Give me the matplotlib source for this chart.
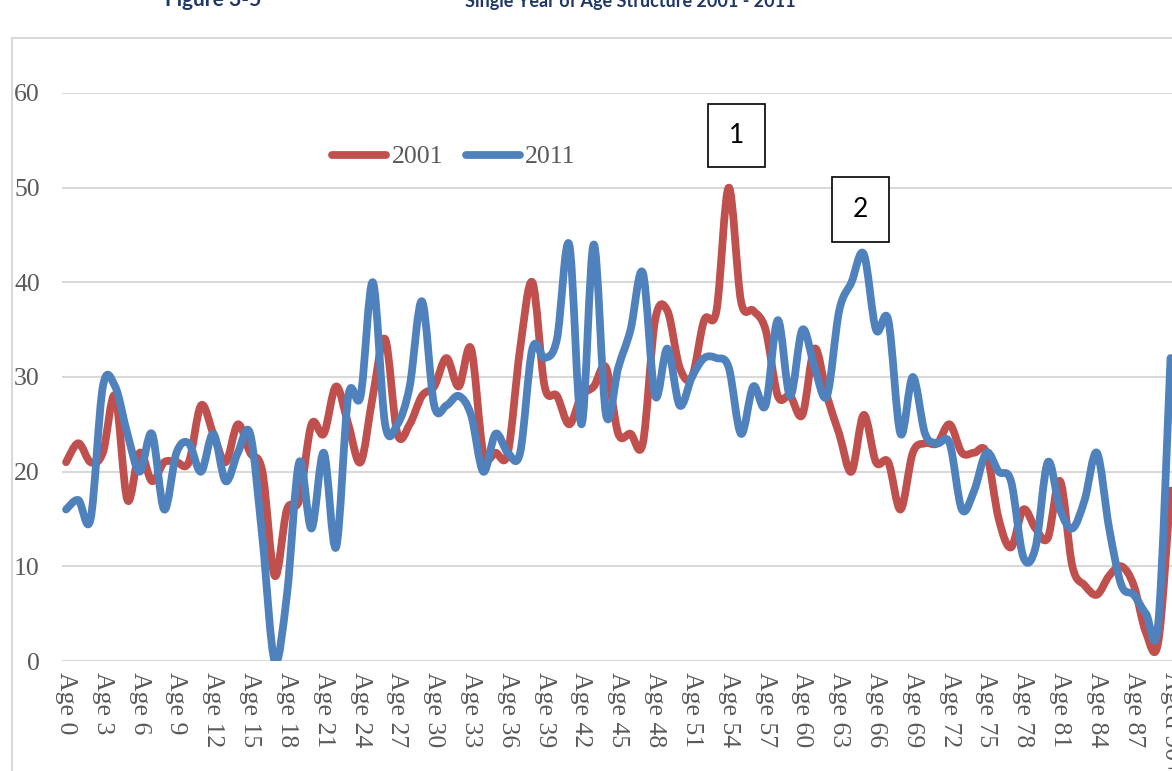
import matplotlib
matplotlib.use("Agg")
import matplotlib.pyplot as plt
from matplotlib.path import Path
from matplotlib.patches import PathPatch, Rectangle
from matplotlib.lines import Line2D

# single year of age, 0 .. 90+
ages = list(range(91))
age_labels = ["Age %d" % a for a in range(90)] + ["Aged 90+"]

pop_2001 = [21, 23, 21, 22, 28, 17, 22, 19, 21, 21,
            21, 27, 24, 21, 25, 22, 20, 9, 16, 17,
            25, 24, 29, 25, 21, 28, 34, 24, 25, 28,
            29, 32, 29, 33, 22, 22, 22, 33, 40, 29,
            28, 25, 28, 29, 31, 24, 24, 23, 36, 37,
            31, 30, 36, 37, 50, 38, 37, 35, 28, 28,
            26, 33, 28, 24, 20, 26, 21, 21, 16, 22,
            23, 23, 25, 22, 22, 22, 15, 12, 16, 14,
            13, 19, 10, 8, 7, 9, 10, 8, 3, 2, 18]

pop_2011 = [16, 17, 15, 29, 29, 24, 20, 24, 16, 22,
            23, 20, 24, 19, 22, 24, 13, 0, 7, 21,
            14, 22, 12, 28, 28, 40, 25, 25, 29, 38,
            27, 27, 28, 26, 20, 24, 22, 22, 33, 32,
            34, 44, 25, 44, 26, 31, 35, 41, 28, 33,
            27, 30, 32, 32, 31, 24, 29, 27, 36, 28,
            35, 31, 28, 37, 40, 43, 35, 36, 24, 30,
            24, 23, 23, 16, 18, 22, 20, 19, 11, 12,
            21, 16, 14, 17, 22, 14, 8, 7, 5, 4, 32]

years = ["2001", "2011"]
colors = ["#C0504D", "#4F81BD"]


def smooth_path(xs, ys):
    # excel-style smoothed line: bezier segments through every point
    n = len(xs)
    verts = [(xs[0], ys[0])]
    codes = [Path.MOVETO]
    for i in range(n - 1):
        a = i - 1 if i > 0 else i
        d = i + 2 if i + 2 < n else i + 1
        c1 = (xs[i] + (xs[i + 1] - xs[a]) / 6.0, ys[i] + (ys[i + 1] - ys[a]) / 6.0)
        c2 = (xs[i + 1] - (xs[d] - xs[i]) / 6.0, ys[i + 1] - (ys[d] - ys[i]) / 6.0)
        verts += [c1, c2, (xs[i + 1], ys[i + 1])]
        codes += [Path.CURVE4] * 3
    return Path(verts, codes)


W, H = 1172, 771
fig = plt.figure(figsize=(W / 100, H / 100), dpi=100)
ax = fig.add_axes([62 / W, 1 - 661 / H, 1 - 62 / W, (661 - 93) / H])

for vals, col, z in zip([pop_2001, pop_2011], colors, [3, 4]):
    patch = PathPatch(smooth_path(ages, vals), fill=False, edgecolor=col, lw=5.6,
                      capstyle="round", joinstyle="round", zorder=z)
    ax.add_patch(patch)

ax.set_xlim(-0.33, 90.12)
ax.set_ylim(0, 60)
ax.set_yticks(range(0, 61, 10))
ax.set_xticks(ages[::3])
ax.set_xticklabels(age_labels[::3])
ax.grid(axis="y", color="#D9D9D9", lw=1.5)
ax.set_axisbelow(True)
for s in ax.spines.values():
    s.set_visible(False)
ax.tick_params(length=0)
ax.tick_params(axis="y", pad=16)
ax.tick_params(axis="x", pad=8)
for lab in ax.get_yticklabels() + ax.get_xticklabels():
    lab.set_fontfamily("Liberation Serif")
    lab.set_fontsize(18.5)
    lab.set_color("#595959")
for lab in ax.get_xticklabels():
    lab.set_rotation(-90)

handles = [Line2D([], [], color=c, lw=5.6, solid_capstyle="round") for c in colors]
leg = fig.legend(handles, years, ncol=2, frameon=False, loc="center",
                 bbox_to_anchor=(454 / W, 1 - 157 / H),
                 prop={"family": "Liberation Serif", "size": 18.5},
                 handlelength=2.1, handletextpad=0.2, columnspacing=0.9)
for t in leg.get_texts():
    t.set_color("#595959")

# numbered callout boxes
for label, (x0, y0, x1, y1) in zip(["1", "2"], [(708, 104, 765, 167), (832, 177, 889, 242)]):
    fig.add_artist(Rectangle((x0 / W, 1 - y1 / H), (x1 - x0) / W, (y1 - y0) / H,
                             transform=fig.transFigure, facecolor="white",
                             edgecolor="black", lw=1.2, zorder=10))
    fig.text((x0 + x1) / 2 / W, 1 - (y0 + y1) / 2 / H, label, ha="center", va="center",
             fontsize=19, family="Lato", color="black", zorder=11)

# chart border and heading, clipped at the top as in the source page
fig.add_artist(Rectangle((12 / W, -0.05), 1.1, 1 - 38 / H + 0.05, transform=fig.transFigure,
                         fill=False, edgecolor="#D9D9D9", lw=1.5))
fig.text(165 / W, 1 - 6.5 / H, "Figure 3-5", fontsize=15, fontweight="bold",
         family="Lato", color="#1F3864", va="baseline")
fig.text(465 / W, 1 - 6.5 / H, "Single Year of Age Structure 2001 - 2011", fontsize=13,
         fontweight="bold", family="Lato", color="#1F3864", va="baseline")

fig.savefig("out.png", dpi=100)
